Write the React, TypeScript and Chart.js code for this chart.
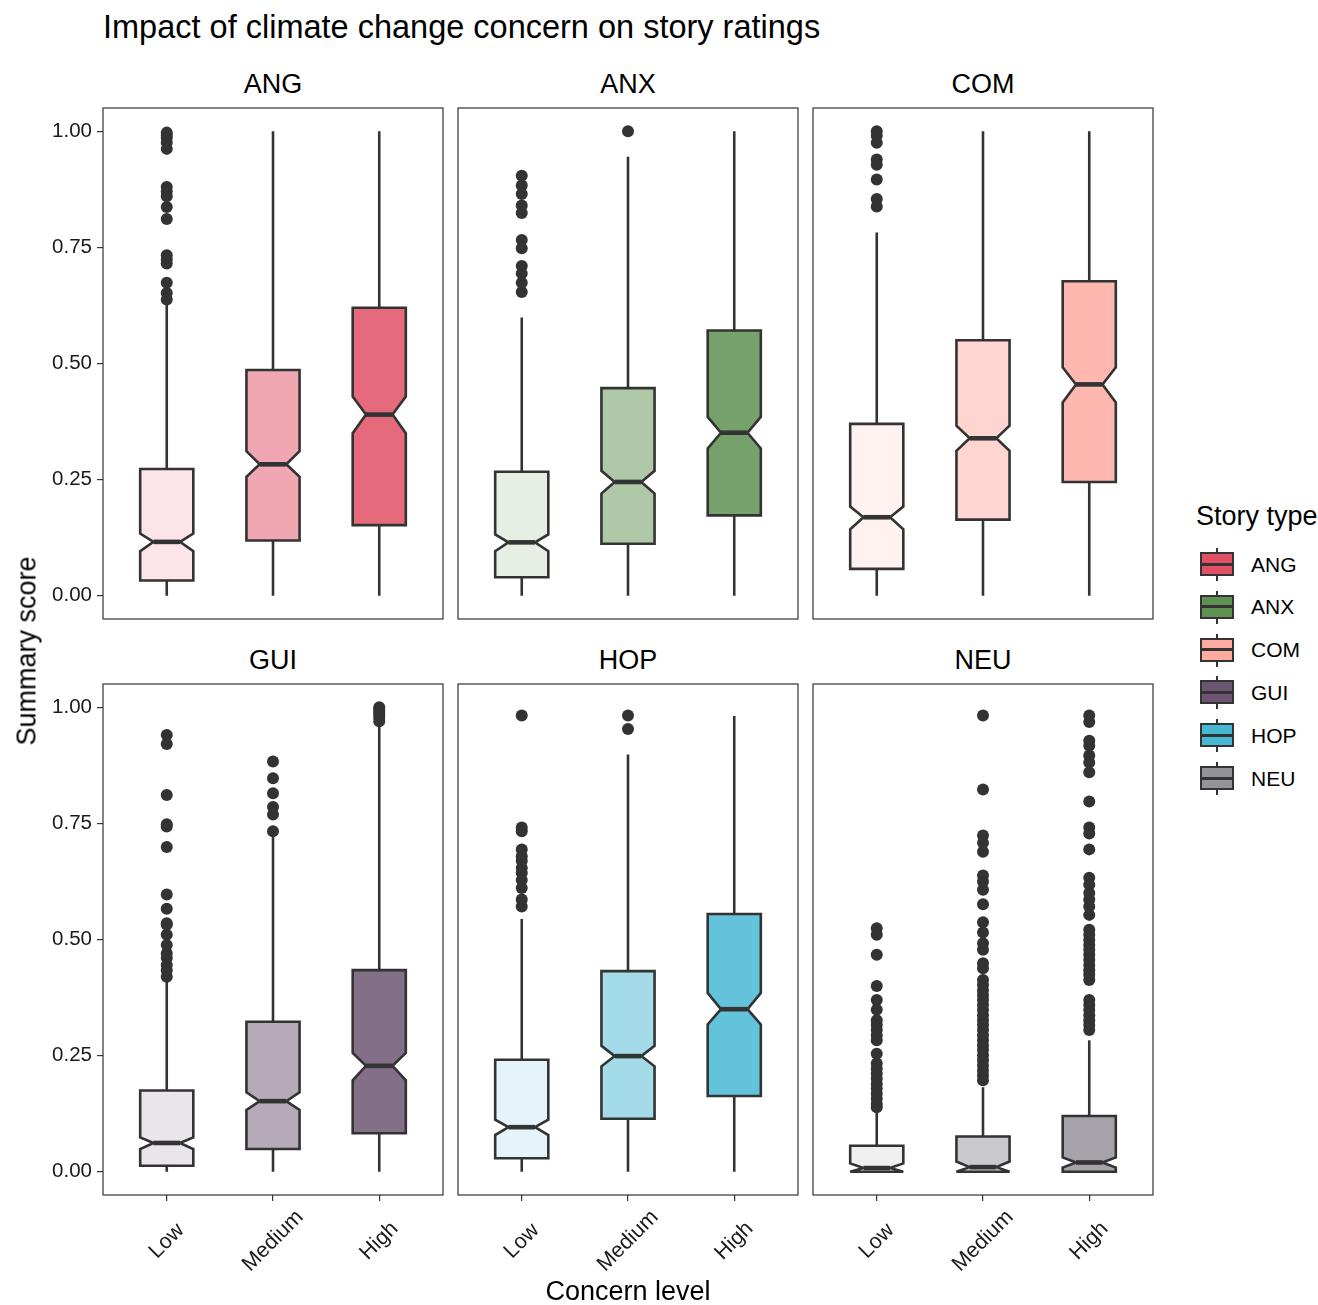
import React, { useEffect, useRef } from 'react';
import { Chart, registerables } from 'chart.js';

Chart.register(...registerables);

const FONT = '"Liberation Sans", Arial, Helvetica, sans-serif';

const chartTitle = 'Impact of climate change concern on story ratings';
const xAxisTitle = 'Concern level';
const yAxisTitle = 'Summary score';
const legendTitle = 'Story type';

const storyTypes = ['ANG', 'ANX', 'COM', 'GUI', 'HOP', 'NEU'];
const concernLevels = ['Low', 'Medium', 'High'];
const yTickValues = [0, 0.25, 0.5, 0.75, 1];

const storyColors = ['#E15064', '#5F9152', '#FEABA2', '#6D5672', '#47B8D3', '#95939A'];
const levelAlphas = [0.15, 0.5, 0.85];

// rows: story type (ANG..NEU); columns: Low, Medium, High
const whiskerLow = [
  [0, 0, 0],
  [0, 0, 0],
  [0, 0, 0],
  [0, 0, 0],
  [0, 0, 0],
  [0, 0, 0],
];
const q1 = [
  [0.033, 0.119, 0.152],
  [0.04, 0.112, 0.173],
  [0.058, 0.164, 0.245],
  [0.013, 0.049, 0.083],
  [0.029, 0.114, 0.163],
  [0.0, 0.0, 0.0],
];
const median = [
  [0.116, 0.283, 0.39],
  [0.115, 0.245, 0.351],
  [0.169, 0.339, 0.455],
  [0.062, 0.152, 0.228],
  [0.096, 0.249, 0.35],
  [0.008, 0.01, 0.02],
];
const q3 = [
  [0.273, 0.486, 0.62],
  [0.267, 0.447, 0.571],
  [0.37, 0.55, 0.677],
  [0.175, 0.323, 0.434],
  [0.241, 0.432, 0.555],
  [0.056, 0.076, 0.12],
];
const whiskerHigh = [
  [0.628, 1.0, 1.0],
  [0.599, 0.945, 1.0],
  [0.782, 1.0, 1.0],
  [0.409, 0.725, 0.96],
  [0.544, 0.898, 0.981],
  [0.132, 0.182, 0.283],
];
const notchLow = [
  [0.096, 0.256, 0.35],
  [0.096, 0.22, 0.317],
  [0.143, 0.312, 0.416],
  [0.049, 0.133, 0.197],
  [0.079, 0.227, 0.317],
  [0.0, 0.0, 0.009],
];
const notchHigh = [
  [0.134, 0.311, 0.429],
  [0.132, 0.269, 0.385],
  [0.192, 0.366, 0.492],
  [0.074, 0.171, 0.256],
  [0.112, 0.271, 0.385],
  [0.018, 0.022, 0.031],
];

// outliers per concern level [Low, Medium, High]
const angOutliers = [
  [0.997, 0.992, 0.986, 0.976, 0.962, 0.88, 0.87, 0.86, 0.837, 0.811, 0.733, 0.724, 0.715, 0.674, 0.652, 0.638],
  [],
  [],
];
const anxOutliers = [
  [0.904, 0.883, 0.865, 0.84, 0.824, 0.766, 0.748, 0.71, 0.694, 0.674, 0.654],
  [1.0],
  [],
];
const comOutliers = [
  [1.0, 0.99, 0.975, 0.939, 0.928, 0.896, 0.854, 0.838],
  [],
  [],
];
const guiOutliers = [
  [0.94, 0.921, 0.811, 0.748, 0.743, 0.699, 0.597, 0.566, 0.535, 0.532, 0.51, 0.488, 0.47, 0.46, 0.445, 0.434, 0.42],
  [0.883, 0.847, 0.815, 0.785, 0.769, 0.733],
  [1.0, 0.995, 0.99, 0.985, 0.978, 0.97],
];
const hopOutliers = [
  [0.982, 0.741, 0.733, 0.694, 0.679, 0.669, 0.654, 0.643, 0.628, 0.611, 0.586, 0.571],
  [0.982, 0.953],
  [],
];
const neuOutliers = [
  [0.524, 0.51, 0.467, 0.4, 0.37, 0.349, 0.326, 0.316, 0.305, 0.294, 0.283, 0.254, 0.233, 0.222, 0.211, 0.2, 0.189, 0.179, 0.168, 0.157, 0.146, 0.139],
  [0.982, 0.823, 0.724, 0.708, 0.689, 0.638, 0.625, 0.607, 0.576, 0.537, 0.515, 0.492, 0.478, 0.449, 0.438, 0.413, 0.402, 0.391, 0.38, 0.37, 0.359, 0.348, 0.337, 0.326, 0.316, 0.305, 0.294, 0.283, 0.272, 0.262, 0.251, 0.24, 0.229, 0.218, 0.207, 0.197],
  [0.982, 0.968, 0.928, 0.917, 0.896, 0.881, 0.86, 0.797, 0.741, 0.728, 0.694, 0.633, 0.618, 0.6, 0.586, 0.571, 0.553, 0.521, 0.51, 0.499, 0.488, 0.478, 0.467, 0.456, 0.445, 0.434, 0.424, 0.413, 0.37, 0.359, 0.348, 0.337, 0.326, 0.316, 0.305],
];
const outliers = [angOutliers, anxOutliers, comOutliers, guiOutliers, hopOutliers, neuOutliers];

// layout
const PANEL_LEFTS = [103, 458, 813];
const PANEL_TOPS = [108, 684];
const PANEL_W = 340;
const PANEL_H = 511;
const PAD = 4;
const Y_AXIS_W = 60;
const X_AXIS_H = 90;
const X_LABEL_CENTER = 46;
const BOX_HALF = 0.25;
const NOTCH_RATIO = 0.5;
const LINE = '#333333';

function rgba(hex: string, a: number) {
  const n = parseInt(hex.slice(1), 16);
  return `rgba(${(n >> 16) & 255},${(n >> 8) & 255},${n & 255},${a})`;
}

function makeBoxPlugin(t: number, showX: boolean) {
  return {
    id: 'notchedBoxes',
    beforeDatasetsDraw(chart: any) {
      const ctx = chart.ctx;
      const xs = chart.scales.x;
      const ys = chart.scales.y;
      const Y = (v: number) => ys.getPixelForValue(v);
      ctx.save();
      concernLevels.forEach((_, i) => {
        const cx = xs.getPixelForValue(i + 1);
        const hw = xs.getPixelForValue(i + 1 + BOX_HALF) - cx;
        const nw = hw * NOTCH_RATIO;
        ctx.strokeStyle = LINE;
        ctx.lineWidth = 2.6;
        ctx.lineCap = 'butt';
        ctx.beginPath();
        ctx.moveTo(cx, Y(q3[t][i]));
        ctx.lineTo(cx, Y(whiskerHigh[t][i]));
        ctx.moveTo(cx, Y(q1[t][i]));
        ctx.lineTo(cx, Y(whiskerLow[t][i]));
        ctx.stroke();

        ctx.beginPath();
        ctx.moveTo(cx - hw, Y(q1[t][i]));
        ctx.lineTo(cx - hw, Y(notchLow[t][i]));
        ctx.lineTo(cx - nw, Y(median[t][i]));
        ctx.lineTo(cx - hw, Y(notchHigh[t][i]));
        ctx.lineTo(cx - hw, Y(q3[t][i]));
        ctx.lineTo(cx + hw, Y(q3[t][i]));
        ctx.lineTo(cx + hw, Y(notchHigh[t][i]));
        ctx.lineTo(cx + nw, Y(median[t][i]));
        ctx.lineTo(cx + hw, Y(notchLow[t][i]));
        ctx.lineTo(cx + hw, Y(q1[t][i]));
        ctx.closePath();
        ctx.fillStyle = rgba(storyColors[t], levelAlphas[i]);
        ctx.fill();
        ctx.lineJoin = 'miter';
        ctx.miterLimit = 2;
        ctx.stroke();

        ctx.lineWidth = 4.6;
        ctx.beginPath();
        ctx.moveTo(cx - nw, Y(median[t][i]));
        ctx.lineTo(cx + nw, Y(median[t][i]));
        ctx.stroke();
      });
      ctx.restore();
    },
    afterDatasetsDraw(chart: any) {
      const { ctx, chartArea } = chart;
      ctx.save();
      ctx.strokeStyle = LINE;
      ctx.lineWidth = 1.2;
      ctx.strokeRect(chartArea.left, chartArea.top, chartArea.right - chartArea.left, chartArea.bottom - chartArea.top);
      ctx.restore();
    },
    afterDraw(chart: any) {
      if (!showX) return;
      const ctx = chart.ctx;
      const xs = chart.scales.x;
      ctx.save();
      ctx.fillStyle = '#1a1a1a';
      ctx.font = `21.5px ${FONT}`;
      ctx.textAlign = 'center';
      ctx.textBaseline = 'middle';
      xs.ticks.forEach((tk: any) => {
        const label = concernLevels[Math.round(tk.value) - 1];
        ctx.save();
        ctx.translate(xs.getPixelForValue(tk.value), chart.chartArea.bottom + X_LABEL_CENTER);
        ctx.rotate(-Math.PI / 4);
        ctx.fillText(label, 0, 0);
        ctx.restore();
      });
      ctx.restore();
    },
  };
}

function Panel({ t, col, row }: { t: number; col: number; row: number }) {
  const ref = useRef<HTMLCanvasElement>(null);
  const showY = col === 0;
  const showX = row === 1;
  const width = PANEL_W + 2 * PAD + (showY ? Y_AXIS_W : 0);
  const height = PANEL_H + 2 * PAD + (showX ? X_AXIS_H : 0);
  const left = PANEL_LEFTS[col] - PAD - (showY ? Y_AXIS_W : 0);
  const top = PANEL_TOPS[row] - PAD;

  useEffect(() => {
    if (!ref.current) return;
    const points: { x: number; y: number }[] = [];
    outliers[t].forEach((vals, i) => vals.forEach((v) => points.push({ x: i + 1, y: v })));
    const chart = new Chart(ref.current, {
      type: 'scatter',
      data: {
        datasets: [
          {
            label: storyTypes[t],
            data: points,
            pointRadius: 6,
            pointHoverRadius: 6,
            backgroundColor: LINE,
            borderWidth: 0,
          },
        ],
      },
      options: {
        animation: false,
        responsive: false,
        events: [],
        layout: { padding: PAD, autoPadding: false },
        plugins: { legend: { display: false }, tooltip: { enabled: false }, title: { display: false } },
        scales: {
          x: {
            type: 'linear',
            bounds: 'data',
            min: 0.4,
            max: 3.6,
            display: showX,
            afterBuildTicks: (s: any) => {
              s.ticks = concernLevels.map((_, i) => ({ value: i + 1 }));
            },
            afterFit: (s: any) => {
              if (showX) {
                s.height = X_AXIS_H;
                s.paddingLeft = 0;
                s.paddingRight = 0;
              }
            },
            ticks: {
              display: false,
              callback: (v: any) => concernLevels[Math.round(Number(v)) - 1],
              autoSkip: false,
            },
            grid: { drawOnChartArea: false, tickLength: 6, color: LINE, lineWidth: 1.2 },
            border: { display: false },
          },
          y: {
            type: 'linear',
            bounds: 'data',
            min: -0.05,
            max: 1.05,
            display: showY,
            afterBuildTicks: (s: any) => {
              s.ticks = yTickValues.map((v) => ({ value: v }));
            },
            afterFit: (s: any) => {
              if (showY) {
                s.width = Y_AXIS_W;
                s.paddingTop = 0;
                s.paddingBottom = 0;
              }
            },
            ticks: {
              callback: (v: any) => Number(v).toFixed(2),
              padding: 5,
              color: '#1a1a1a',
              font: { family: FONT, size: 20.5 },
            },
            grid: { drawOnChartArea: false, tickLength: 6, color: LINE, lineWidth: 1.2 },
            border: { display: false },
          },
        },
      } as any,
      plugins: [makeBoxPlugin(t, showX)],
    });
    return () => chart.destroy();
  }, []);

  return (
    <canvas
      ref={ref}
      width={width}
      height={height}
      style={{ position: 'absolute', left, top, width, height }}
    />
  );
}

const textBase: React.CSSProperties = {
  position: 'absolute',
  fontFamily: FONT,
  color: '#000',
  lineHeight: 1,
  whiteSpace: 'nowrap',
};

export default function App() {
  return (
    <div style={{ position: 'absolute', left: 0, top: 0, width: 1318, height: 1305, background: '#fff', overflow: 'hidden' }}>
      <div style={{ ...textBase, left: 103, top: 11, fontSize: 32.5 }}>{chartTitle}</div>
      {storyTypes.map((s, t) => {
        const col = t % 3;
        const row = Math.floor(t / 3);
        return (
          <React.Fragment key={s}>
            <div
              style={{
                ...textBase,
                left: PANEL_LEFTS[col] + PANEL_W / 2,
                top: PANEL_TOPS[row] - 37,
                fontSize: 27,
                transform: 'translateX(-50%)',
              }}
            >
              {s}
            </div>
            <Panel t={t} col={col} row={row} />
          </React.Fragment>
        );
      })}
      <div
        style={{
          ...textBase,
          left: 27,
          top: 651,
          fontSize: 27,
          transform: 'translate(-50%, -50%) rotate(-90deg)',
        }}
      >
        {yAxisTitle}
      </div>
      <div style={{ ...textBase, left: 628, top: 1278, fontSize: 27, transform: 'translateX(-50%)' }}>{xAxisTitle}</div>
      <div style={{ ...textBase, left: 1196, top: 503, fontSize: 27 }}>{legendTitle}</div>
      {storyTypes.map((s, t) => {
        const cy = 564 + t * 42.8;
        return (
          <React.Fragment key={'lg' + s}>
            <div style={{ position: 'absolute', left: 1216, top: cy - 16, width: 2, height: 33, background: LINE }} />
            <div
              style={{
                position: 'absolute',
                left: 1200,
                top: cy - 12,
                width: 34,
                height: 24,
                boxSizing: 'border-box',
                border: `2.4px solid ${LINE}`,
                background: storyColors[t],
              }}
            >
              <div style={{ position: 'absolute', left: 0, right: 0, top: 8.5, height: 3, background: LINE }} />
            </div>
            <div style={{ ...textBase, left: 1251, top: cy - 10.5, fontSize: 21 }}>{s}</div>
          </React.Fragment>
        );
      })}
    </div>
  );
}
